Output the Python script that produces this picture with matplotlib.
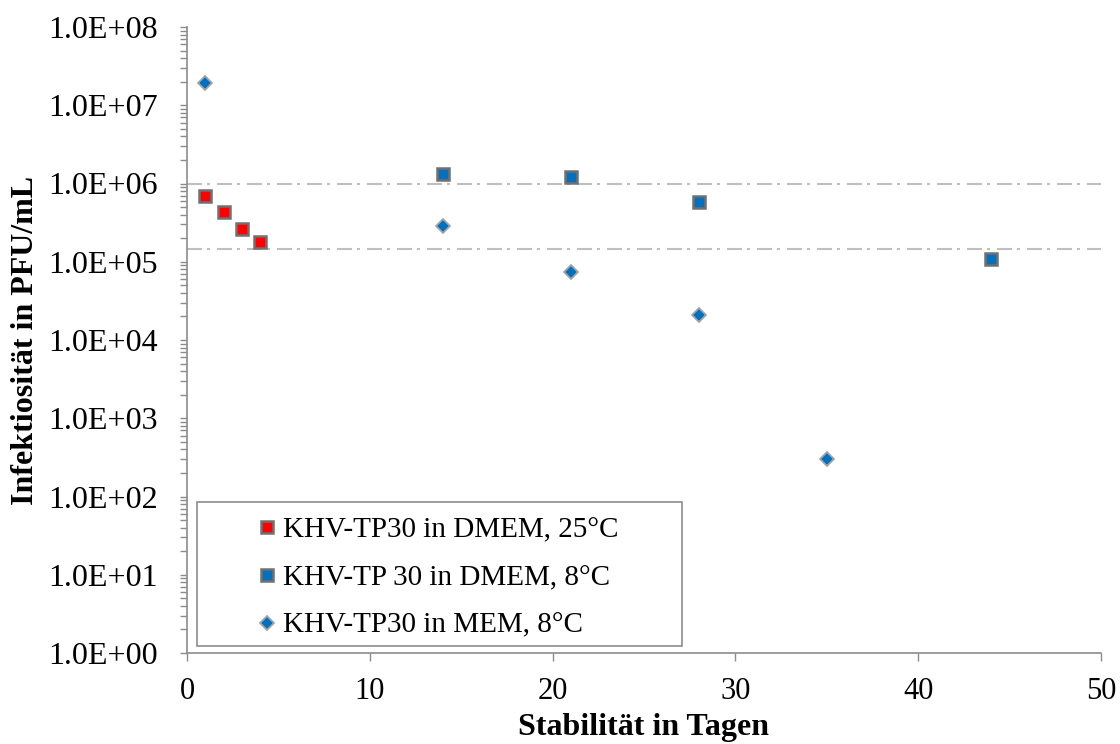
import matplotlib
matplotlib.use('Agg')
import matplotlib.pyplot as plt
from matplotlib.patches import Rectangle
from matplotlib.ticker import FuncFormatter, LogLocator, MultipleLocator

# Werte
red_x = [1, 2, 3, 4]
red_y = [6.9e5, 4.3e5, 2.6e5, 1.8e5]

dmem8_x = [14, 21, 28, 44]
dmem8_y = [1.32e6, 1.22e6, 5.8e5, 1.1e5]

mem8_x = [1, 14, 21, 28, 35]
mem8_y = [1.95e7, 2.9e5, 7.5e4, 2.1e4, 300]

ref_lines = [1e6, 1.47e5]

labels = ['KHV-TP30 in DMEM, 25°C',
          'KHV-TP 30 in DMEM, 8°C',
          'KHV-TP30 in MEM, 8°C']

plt.rcParams['font.family'] = ['Liberation Serif', 'DejaVu Serif']

W, H = 1120, 744
fig = plt.figure(figsize=(W / 100, H / 100), dpi=100)
ax = fig.add_axes([187 / W, 1 - 653 / H, 914 / W, 626 / H])

grey = '#8C8C8C'

for yv in ref_lines:
    ax.axhline(yv, color='#BFBFBF', lw=1.5,
               linestyle=(0, (7.2, 2.4, 1.44, 3.36)), zorder=1)

h1, = ax.plot(red_x, red_y, ls='none', marker='s', ms=9,
              mfc='#FF0000', mec='#707070', mew=1.8, zorder=3)
h2, = ax.plot(dmem8_x, dmem8_y, ls='none', marker='s', ms=9,
              mfc='#0070C0', mec='#707070', mew=1.8, zorder=3)
h3, = ax.plot(mem8_x, mem8_y, ls='none', marker='D', ms=7.5,
              mfc='#0070C0', mec='#A6A6A6', mew=1.3, zorder=3)

ax.set_yscale('log')
ax.set_ylim(1, 1e8)
ax.set_xlim(0, 50)
ax.xaxis.set_major_locator(MultipleLocator(10))
ax.yaxis.set_major_locator(LogLocator(base=10, numticks=20))
ax.yaxis.set_minor_locator(LogLocator(base=10, subs=range(2, 10), numticks=20))
ax.yaxis.set_major_formatter(FuncFormatter(lambda v, p: f'{v:.1E}'))

for s in ['top', 'right']:
    ax.spines[s].set_visible(False)
for s in ['left', 'bottom']:
    ax.spines[s].set_color(grey)
    ax.spines[s].set_linewidth(1.2)

ax.tick_params(axis='y', which='both', direction='out', length=5, width=1,
               color=grey, labelsize=23, pad=16)
ax.tick_params(axis='x', which='major', direction='out', length=6, width=1,
               color=grey, labelsize=22, pad=11)
ax.tick_params(axis='x', which='minor', length=0)

fig.text(644 / W, 1 - 727 / H, 'Stabilität in Tagen', ha='center',
         va='center', fontsize=23, fontweight='bold')
fig.text(26 / W, 1 - 340 / H, 'Infektiosität in PFU/mL', ha='center',
         va='center', rotation=90, fontsize=23, fontweight='bold')

# Legendenrahmen wie in Excel, größer als der Inhalt
box = Rectangle((197 / W, 1 - 646 / H), 485 / W, 144 / H,
                transform=fig.transFigure, facecolor='white',
                edgecolor=grey, lw=1.2, zorder=4, clip_on=False)
ax.add_patch(box)

leg = ax.legend([h1, h2, h3], labels, loc='upper left',
                bbox_to_anchor=(258 / W, 1 - 517 / H),
                bbox_transform=fig.transFigure, frameon=False,
                borderpad=0, borderaxespad=0, handlelength=0.6,
                handletextpad=0.25, labelspacing=0.73, fontsize=21,
                markerscale=0.9)
leg.set_zorder(5)

fig.savefig('out.png', dpi=100)
